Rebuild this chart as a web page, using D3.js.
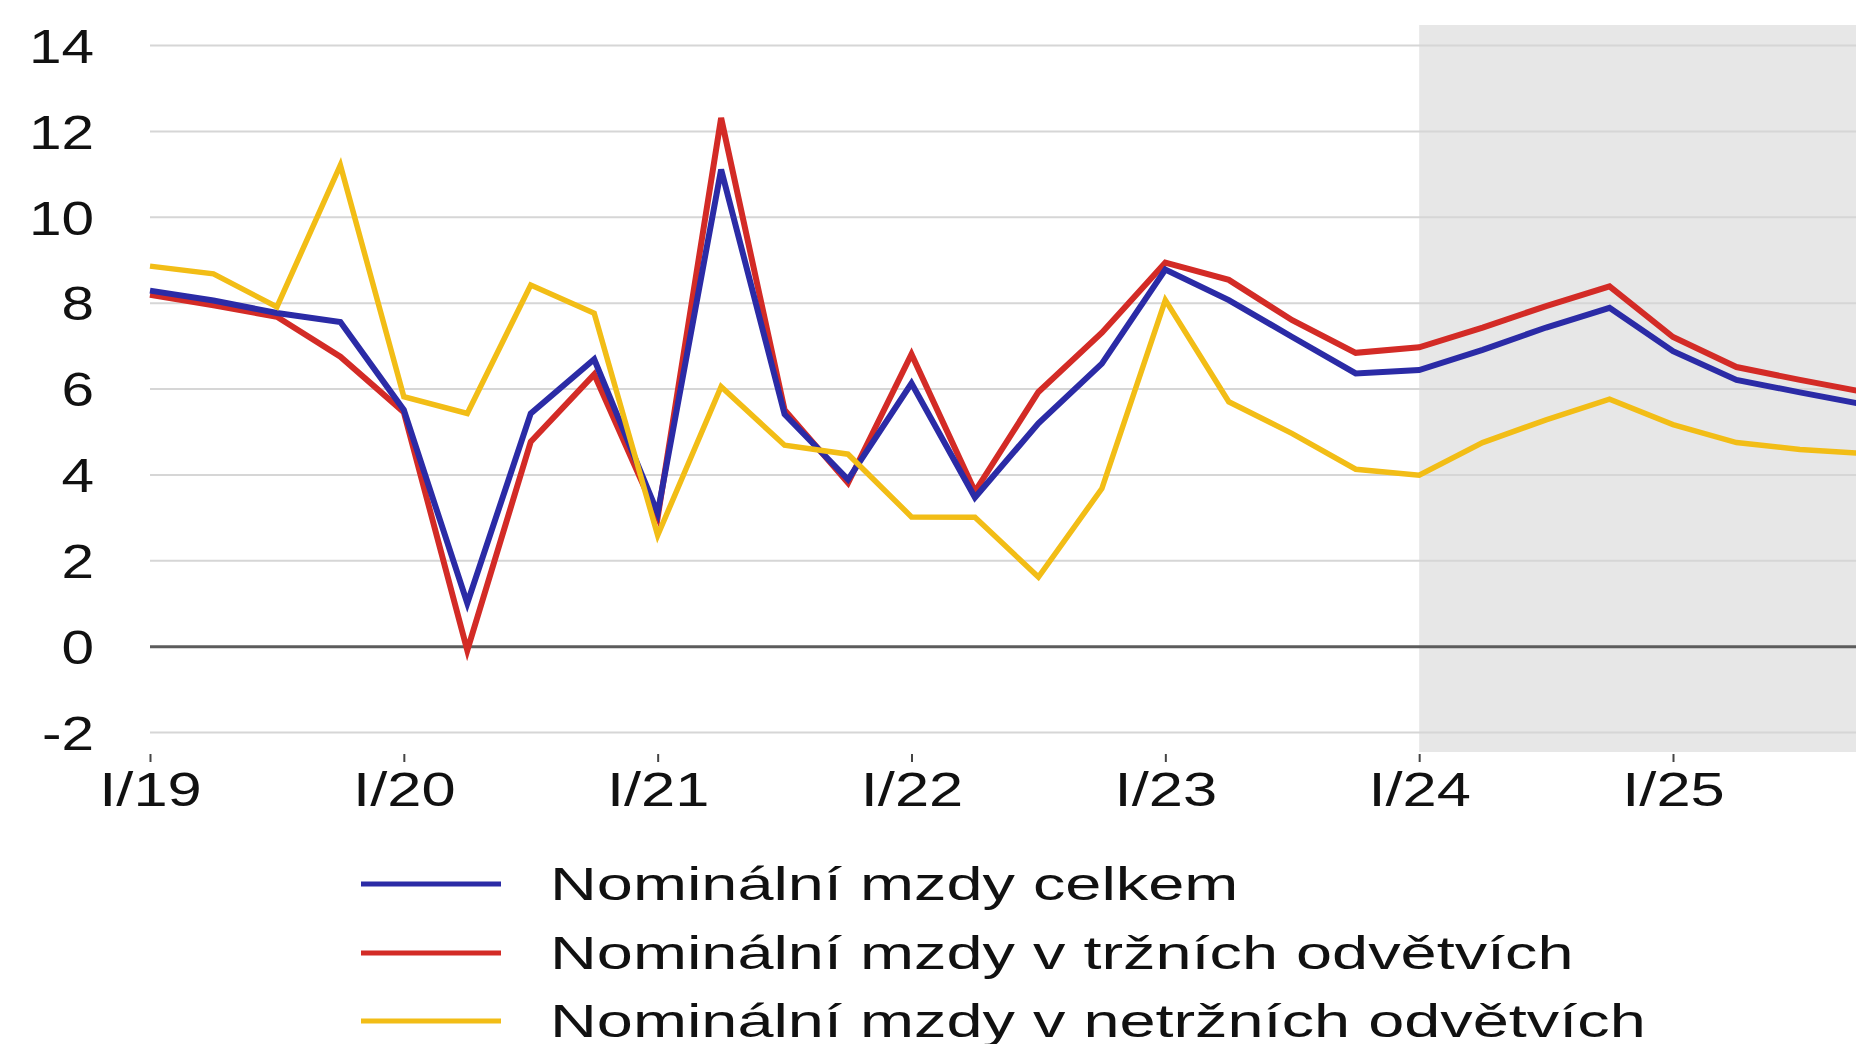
<!DOCTYPE html>
<html>
<head>
  <meta charset="utf-8">
  <title>Nominální mzdy</title>
  <script src="https://d3js.org/d3.v7.min.js"></script>
  <style>
    body { margin: 0; background: #fff; }
    text { font-family: "Liberation Sans", Arial, sans-serif; fill: #111; }
  </style>
</head>
<body>
  <svg id="chart"></svg>

  <script>
    // quarters I/19 .. IV/25
    const quarters = [
      "I/19", "II/19", "III/19", "IV/19",
      "I/20", "II/20", "III/20", "IV/20",
      "I/21", "II/21", "III/21", "IV/21",
      "I/22", "II/22", "III/22", "IV/22",
      "I/23", "II/23", "III/23", "IV/23",
      "I/24", "II/24", "III/24", "IV/24",
      "I/25", "II/25", "III/25", "IV/25"
    ];
    const yearTicks = ["I/19", "I/20", "I/21", "I/22", "I/23", "I/24", "I/25"];
    const yTicks = [-2, 0, 2, 4, 6, 8, 10, 12, 14];
    const forecastStart = "I/24";

    const celkem = [
      8.28, 8.05, 7.76, 7.55,
      5.5, 1.0, 5.42, 6.68,
      3.1, 11.1, 5.4, 3.88,
      6.12, 3.46, 5.19, 6.58,
      8.77, 8.06, 7.2, 6.35,
      6.43, 6.9, 7.42, 7.88,
      6.87, 6.2, 5.91, 5.63
    ];
    const trzni = [
      8.18, 7.94, 7.67, 6.74,
      5.45, -0.1, 4.76, 6.33,
      3.0, 12.3, 5.5, 3.8,
      6.8, 3.6, 5.92, 7.3,
      8.93, 8.53, 7.59, 6.83,
      6.96, 7.42, 7.92, 8.38,
      7.2, 6.5, 6.2, 5.92
    ];
    const netrzni = [
      8.85, 8.67, 7.9, 11.2,
      5.81, 5.42, 8.41, 7.75,
      2.58, 6.04, 4.68, 4.47,
      3.01, 3.0, 1.61, 3.67,
      8.06, 5.69, 4.95, 4.12,
      3.98, 4.74, 5.27, 5.75,
      5.16, 4.74, 4.58, 4.49
    ];

    const seriesNames = [
      "Nominální mzdy celkem",
      "Nominální mzdy v tržních odvětvích",
      "Nominální mzdy v netržních odvětvích"
    ];
    const seriesColors = ["#2b2ba6", "#d32b26", "#f2bd16"];

    const width = 1856;
    const height = 1044;
    // text in the picture is stretched sideways
    const stretchY = 1.22;
    const stretchX = 1.28;
    const stretchLegend = 1.41;

    const svg = d3.select("#chart")
      .attr("width", width)
      .attr("height", height);

    const step = (1673 - 150) / 24;
    const x = d3.scalePoint()
      .domain(quarters)
      .range([150, 150 + step * (quarters.length - 1)]);

    const y = d3.scaleLinear()
      .domain([-2, 14])
      .range([732, 45]);

    // shaded forecast area
    svg.append("rect")
      .attr("x", x(forecastStart))
      .attr("y", 25)
      .attr("width", width - x(forecastStart))
      .attr("height", 752 - 25)
      .attr("fill", "#e7e7e7");

    // y axis + gridlines
    const yAxis = svg.append("g")
      .attr("transform", "translate(150,0)")
      .call(d3.axisLeft(y).tickValues(yTicks).tickSize(-(width - 150)).tickFormat(d => String(d)));
    yAxis.select(".domain").remove();
    yAxis.selectAll("line")
      .attr("stroke", d => d === 0 ? "#5c5c5c" : "#d6d6d6")
      .attr("stroke-width", d => d === 0 ? 3 : 2);
    yAxis.selectAll("text")
      .attr("x", -56 / stretchY)
      .attr("dy", "0.36em")
      .attr("transform", `scale(${stretchY},1)`)
      .style("font-size", "48px")
      .attr("fill", "#111");

    // lines
    const line = d3.line()
      .x((d, i) => x(quarters[i]))
      .y(d => y(d));

    const series = [
      { values: trzni, color: seriesColors[1], w: 6 },
      { values: celkem, color: seriesColors[0], w: 6 },
      { values: netrzni, color: seriesColors[2], w: 5.5 }
    ];
    svg.append("g")
      .selectAll("path")
      .data(series)
      .join("path")
      .attr("d", s => line(s.values))
      .attr("fill", "none")
      .attr("stroke", s => s.color)
      .attr("stroke-width", s => s.w)
      .attr("stroke-linejoin", "miter");

    // x axis
    const xAxis = svg.append("g")
      .attr("transform", "translate(0,754)")
      .call(d3.axisBottom(x).tickValues(yearTicks).tickSize(8));
    xAxis.select(".domain").remove();
    xAxis.selectAll("line").attr("stroke", "#444").attr("stroke-width", 2);
    xAxis.selectAll("text")
      .attr("y", 52)
      .attr("dy", 0)
      .attr("transform", `scale(${stretchX},1)`)
      .style("font-size", "48px")
      .attr("fill", "#111");

    // legend
    const legendY = [884, 953, 1021];
    const legend = svg.append("g");
    seriesNames.forEach((name, i) => {
      legend.append("line")
        .attr("x1", 361).attr("x2", 501)
        .attr("y1", legendY[i]).attr("y2", legendY[i])
        .attr("stroke", seriesColors[i])
        .attr("stroke-width", 5);
      legend.append("text")
        .attr("transform", `translate(550,${legendY[i] + 16}) scale(${stretchLegend},1)`)
        .style("font-size", "46px")
        .text(name);
    });
  </script>
</body>
</html>
